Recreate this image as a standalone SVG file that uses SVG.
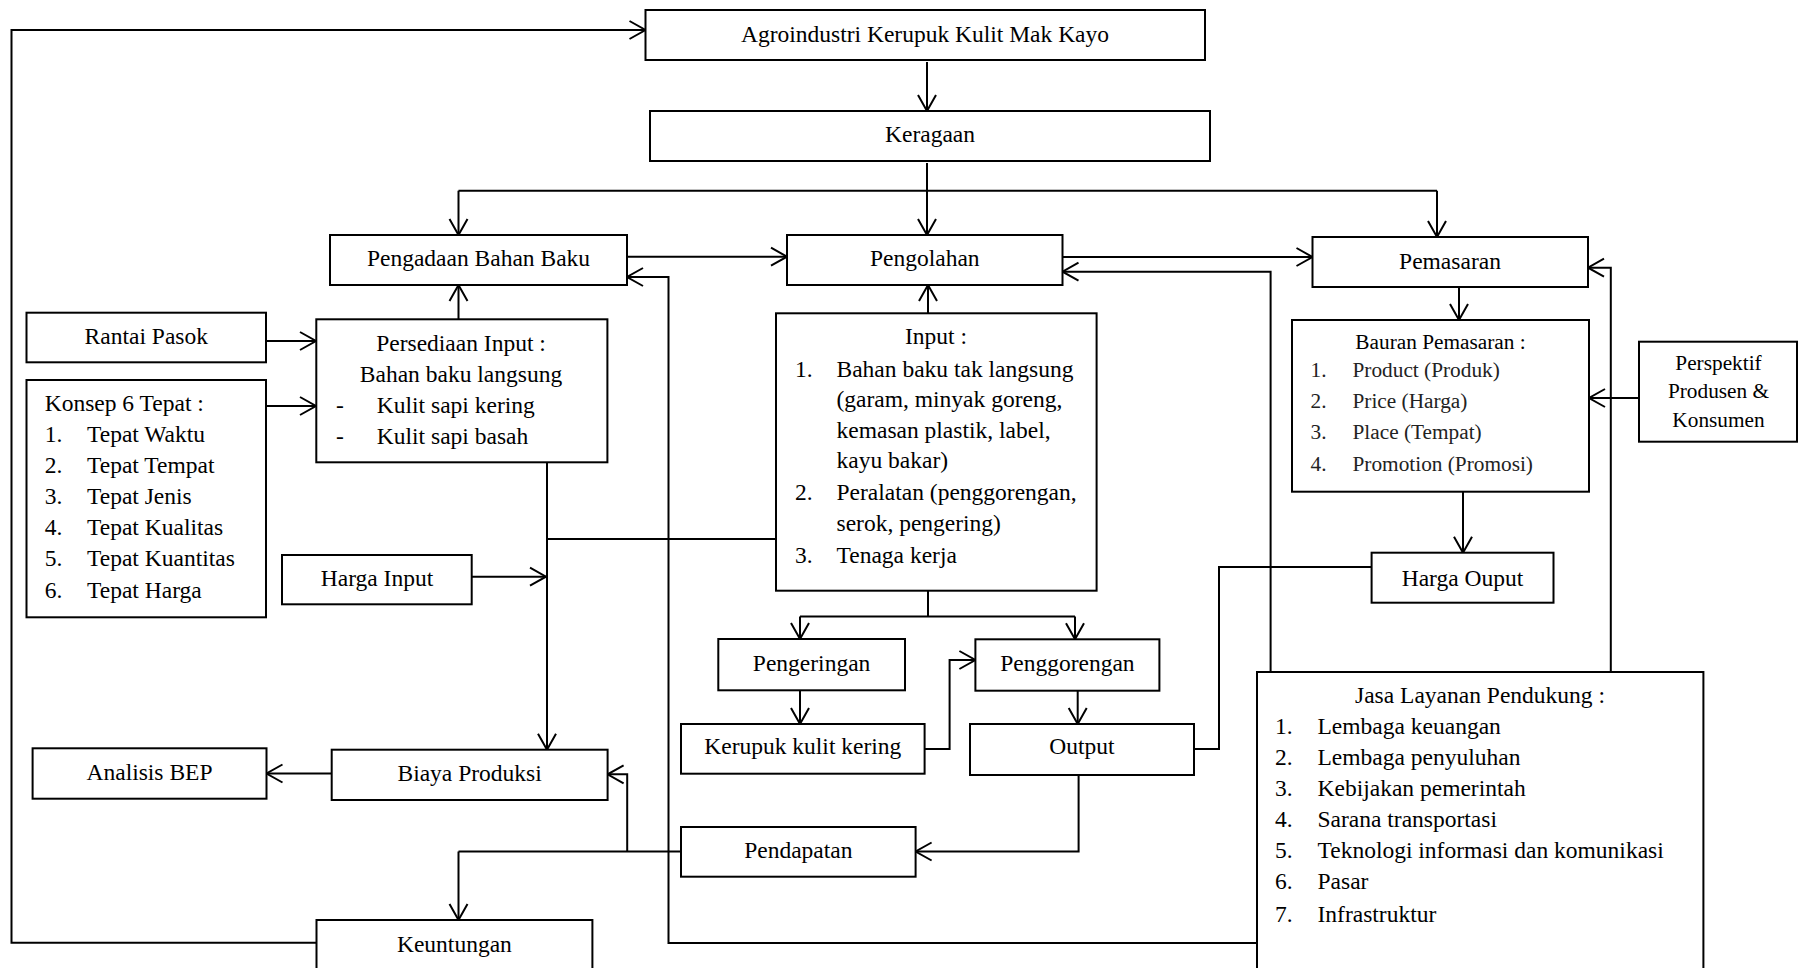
<svg xmlns="http://www.w3.org/2000/svg" width="1798" height="968" viewBox="0 0 1798 968">
  <defs>
    <style>
      .box { fill: #fff; stroke: #000; stroke-width: 2; }
      .ln { fill: none; stroke: #000; stroke-width: 2; }
      .arr { fill: none; stroke: #000; stroke-width: 2; marker-end: url(#head); }
      text { font-family: "Liberation Serif", "Times New Roman", serif; font-size: 23.5px; fill: #000; }
      .c { text-anchor: middle; }
      .s { font-size: 21.3px; }
      .g { fill: #222; }
    </style>
    <marker id="head" markerUnits="userSpaceOnUse" markerWidth="22" markerHeight="24" viewBox="-19 -12 22 24" refX="0" refY="0" orient="auto">
      <path d="M-16,-9 L0,0 L-16,9" fill="none" stroke="#000" stroke-width="2"/>
    </marker>
  </defs>

  <!-- connectors -->
  <g id="connectors">
    <path class="arr" d="M316.5,942.7 H11.5 V30 H645.5"/>
    <path class="arr" d="M927,62 V111"/>
    <path class="arr" d="M927,163 V235"/>
    <path class="ln" d="M458.5,190.7 H1437"/>
    <path class="arr" d="M458.5,190.7 V235"/>
    <path class="arr" d="M1437,190.7 V237"/>
    <path class="arr" d="M627,256.7 H787"/>
    <path class="arr" d="M1062.5,257 H1312.5"/>
    <path class="arr" d="M458.5,319 V285"/>
    <path class="arr" d="M928,313 V285"/>
    <path class="arr" d="M266,341 H316"/>
    <path class="arr" d="M266,406 H316"/>
    <path class="arr" d="M547,462.3 V749.7"/>
    <path class="ln" d="M776,539 H547"/>
    <path class="arr" d="M471.7,576.7 H546"/>
    <path class="arr" d="M331.7,773.5 H266.5"/>
    <path class="ln" d="M681,851.5 H458.5"/>
    <path class="arr" d="M458.5,851.5 V920"/>
    <path class="arr" d="M627.2,851.5 V774.3 H607.6"/>
    <path class="arr" d="M1078.6,775 V851.5 H915.6"/>
    <path class="ln" d="M928,590.7 V616.5 M800,616.5 H1075"/>
    <path class="arr" d="M800,616.5 V639"/>
    <path class="arr" d="M1075,616.5 V639.3"/>
    <path class="arr" d="M800,690.3 V724"/>
    <path class="arr" d="M924.6,749 H949.6 V660 H975.4"/>
    <path class="arr" d="M1077.7,690.7 V724"/>
    <path class="ln" d="M1194,749 H1219 V567 H1371.6"/>
    <path class="arr" d="M1459,287 V320"/>
    <path class="arr" d="M1463,492 V552.7"/>
    <path class="arr" d="M1639,398 H1589"/>
    <path class="arr" d="M1270.6,672 V271.7 H1062.5"/>
    <path class="arr" d="M1610.8,672 V267.7 H1588"/>
    <path class="arr" d="M1257,943 H668.5 V277 H627"/>
  </g>

  <g id="agroindustri">
    <rect class="box" x="645.5" y="10" width="559.5" height="50"/>
    <text class="c" x="925" y="42">Agroindustri Kerupuk Kulit Mak Kayo</text>
  </g>

  <g id="keragaan">
    <rect class="box" x="650" y="111" width="560" height="50"/>
    <text class="c" x="930" y="142">Keragaan</text>
  </g>

  <g id="pengadaan">
    <rect class="box" x="330" y="235" width="297" height="50"/>
    <text class="c" x="478.5" y="266">Pengadaan Bahan Baku</text>
  </g>

  <g id="pengolahan">
    <rect class="box" x="787" y="235" width="275.5" height="50"/>
    <text class="c" x="924.75" y="266">Pengolahan</text>
  </g>

  <g id="pemasaran">
    <rect class="box" x="1312.5" y="237" width="275.5" height="50"/>
    <text class="c" x="1450" y="269">Pemasaran</text>
  </g>

  <g id="rantai-pasok">
    <rect class="box" x="26.5" y="312.7" width="239.5" height="49.6"/>
    <text class="c" x="146.3" y="343.5">Rantai Pasok</text>
  </g>

  <g id="konsep-6-tepat">
    <rect class="box" x="26.5" y="380" width="239.5" height="237.3"/>
    <text x="44.7" y="411">Konsep 6 Tepat :</text>
    <text x="44.7" y="441.7">1.</text><text x="87" y="441.7">Tepat Waktu</text>
    <text x="44.7" y="472.7">2.</text><text x="87" y="472.7">Tepat Tempat</text>
    <text x="44.7" y="504">3.</text><text x="87" y="504">Tepat Jenis</text>
    <text x="44.7" y="535">4.</text><text x="87" y="535">Tepat Kualitas</text>
    <text x="44.7" y="566">5.</text><text x="87" y="566">Tepat Kuantitas</text>
    <text x="44.7" y="597.7">6.</text><text x="87" y="597.7">Tepat Harga</text>
  </g>

  <g id="persediaan-input">
    <rect class="box" x="316.3" y="319.3" width="291.1" height="143"/>
    <text class="c" x="461" y="350.7">Persediaan Input :</text>
    <text class="c" x="461" y="381.7">Bahan baku langsung</text>
    <text x="336" y="412.7">-</text><text x="376.8" y="412.7">Kulit sapi kering</text>
    <text x="336" y="444">-</text><text x="376.8" y="444">Kulit sapi basah</text>
  </g>

  <g id="input">
    <rect class="box" x="776" y="313.3" width="320.6" height="277.4"/>
    <text class="c" x="936" y="344.3">Input :</text>
    <text x="795" y="376.7">1.</text><text x="836.5" y="376.7">Bahan baku tak langsung</text>
    <text x="836.5" y="406.7">(garam, minyak goreng,</text>
    <text x="836.5" y="437.7">kemasan plastik, label,</text>
    <text x="836.5" y="468.3">kayu bakar)</text>
    <text x="795" y="500">2.</text><text x="836.5" y="500">Peralatan (penggorengan,</text>
    <text x="836.5" y="530.7">serok, pengering)</text>
    <text x="795" y="563.3">3.</text><text x="836.5" y="563.3">Tenaga kerja</text>
  </g>

  <g id="bauran-pemasaran">
    <rect class="box" x="1292" y="320" width="297" height="171.7"/>
    <text class="c s" x="1440.5" y="349.3">Bauran Pemasaran :</text>
    <text class="s g" x="1310.6" y="377.3">1.</text><text class="s g" x="1352.5" y="377.3">Product (Produk)</text>
    <text class="s g" x="1310.6" y="408.3">2.</text><text class="s g" x="1352.5" y="408.3">Price (Harga)</text>
    <text class="s g" x="1310.6" y="439.3">3.</text><text class="s g" x="1352.5" y="439.3">Place (Tempat)</text>
    <text class="s g" x="1310.6" y="470.7">4.</text><text class="s g" x="1352.5" y="470.7">Promotion (Promosi)</text>
  </g>

  <g id="perspektif">
    <rect class="box" x="1639" y="341.7" width="158" height="100"/>
    <text class="c s" x="1718.5" y="370">Perspektif</text>
    <text class="c s" x="1718.5" y="398.3">Produsen &amp;</text>
    <text class="c s" x="1718.5" y="427">Konsumen</text>
  </g>

  <g id="harga-input">
    <rect class="box" x="282" y="555" width="189.7" height="49.3"/>
    <text class="c" x="377" y="586">Harga Input</text>
  </g>

  <g id="harga-output">
    <rect class="box" x="1371.6" y="552.7" width="181.9" height="50"/>
    <text class="c" x="1462.5" y="585.7">Harga Ouput</text>
  </g>

  <g id="pengeringan">
    <rect class="box" x="718.3" y="639" width="186.7" height="51.3"/>
    <text class="c" x="811.6" y="670.7">Pengeringan</text>
  </g>

  <g id="penggorengan">
    <rect class="box" x="975.4" y="639.3" width="184" height="51.4"/>
    <text class="c" x="1067.4" y="670.7">Penggorengan</text>
  </g>

  <g id="kerupuk-kulit-kering">
    <rect class="box" x="681" y="724" width="243.6" height="49.7"/>
    <text class="c" x="802.8" y="754.3">Kerupuk kulit kering</text>
  </g>

  <g id="output">
    <rect class="box" x="970" y="724" width="224" height="51"/>
    <text class="c" x="1082" y="754.3">Output</text>
  </g>

  <g id="analisis-bep">
    <rect class="box" x="32.6" y="748.3" width="233.9" height="50.4"/>
    <text class="c" x="149.5" y="780">Analisis BEP</text>
  </g>

  <g id="biaya-produksi">
    <rect class="box" x="331.7" y="749.7" width="275.9" height="50.3"/>
    <text class="c" x="469.6" y="780.7">Biaya Produksi</text>
  </g>

  <g id="pendapatan">
    <rect class="box" x="681" y="827" width="234.6" height="49.7"/>
    <text class="c" x="798.3" y="857.7">Pendapatan</text>
  </g>

  <g id="keuntungan">
    <rect class="box" x="316.5" y="920" width="275.9" height="70"/>
    <text class="c" x="454.4" y="951.7">Keuntungan</text>
  </g>

  <g id="jasa-layanan-pendukung">
    <rect class="box" x="1257" y="672" width="446.4" height="320"/>
    <text class="c" x="1480" y="702.7">Jasa Layanan Pendukung :</text>
    <text x="1275" y="734.3">1.</text><text x="1317.5" y="734.3">Lembaga keuangan</text>
    <text x="1275" y="765">2.</text><text x="1317.5" y="765">Lembaga penyuluhan</text>
    <text x="1275" y="796">3.</text><text x="1317.5" y="796">Kebijakan pemerintah</text>
    <text x="1275" y="826.7">4.</text><text x="1317.5" y="826.7">Sarana transportasi</text>
    <text x="1275" y="858.3">5.</text><text x="1317.5" y="858.3">Teknologi informasi dan komunikasi</text>
    <text x="1275" y="889.3">6.</text><text x="1317.5" y="889.3">Pasar</text>
    <text x="1275" y="921.7">7.</text><text x="1317.5" y="921.7">Infrastruktur</text>
  </g>
</svg>
